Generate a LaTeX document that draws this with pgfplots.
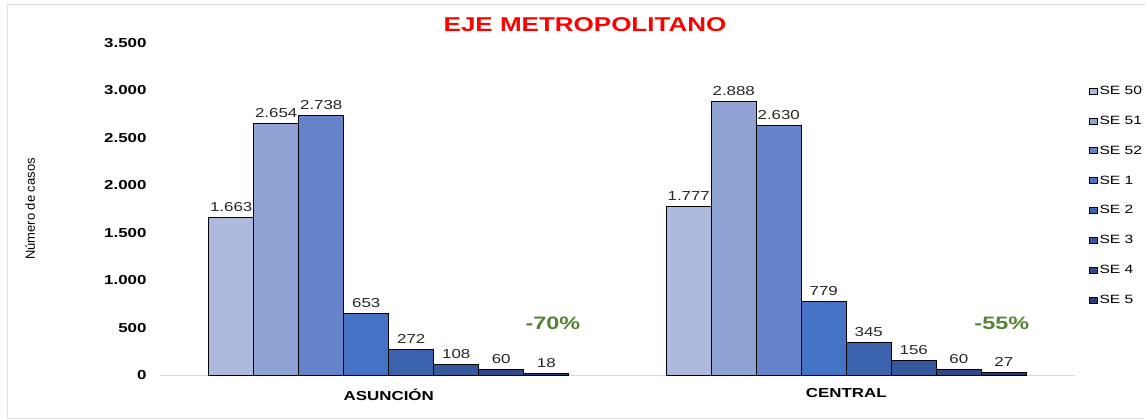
\documentclass[border=0pt]{standalone}
\usepackage{fontspec}
\setmainfont{Liberation Sans}[FakeStretch=1.3]
\newfontfamily\plainfont{Liberation Sans}
\usepackage{pgfplots}
\usepackage{pgfplotstable}
\pgfplotsset{compat=1.18}

\definecolor{c50}{HTML}{AEB9DE}
\definecolor{c51}{HTML}{8FA3D5}
\definecolor{c52}{HTML}{6483C9}
\definecolor{c1}{HTML}{4472C4}
\definecolor{c2}{HTML}{3C64AE}
\definecolor{c3}{HTML}{35579B}
\definecolor{c4}{HTML}{2E4A86}
\definecolor{c5}{HTML}{273F72}
\definecolor{pctgreen}{HTML}{548235}
\definecolor{titlered}{HTML}{FF0000}

% one row per region: 0 = Asuncion, 1 = Central
\pgfplotstableread{
reg se50 se51 se52 se1 se2 se3 se4 se5
0   1663 2654 2738 653 272 108 60  18
1   1777 2888 2630 779 345 156 60  27
}\casos

\pgfplotsset{
  legimg/.style={legend image code/.code={
    \draw[##1, line width=0.6pt] (0pt,-3pt) rectangle (8pt,3pt);}},
}

\begin{document}
\begin{tikzpicture}
\useasboundingbox (-160pt,-44pt) rectangle (985pt,375pt);
\draw[gray!25, line width=0.8pt] (-153pt,-43pt) rectangle (986pt,371pt);
\begin{axis}[
  at={(0pt,0pt)}, anchor=south west,
  scale only axis,
  width=915pt, height=332pt,
  ybar=0pt, bar width=45pt,
  xmin=-0.5, xmax=1.5,
  ymin=0, ymax=3500,
  enlargelimits=false,
  xtick={0,1},
  xticklabels={ASUNCIÓN, CENTRAL},
  ytick={0,500,...,3500},
  axis x line*=bottom, axis y line*=left,
  x axis line style={draw=gray!30, line width=0.8pt, -},
  y axis line style={draw=none},
  tick style={draw=none},
  /pgf/number format/.cd, 1000 sep={.}, assume math mode=true,
  /pgfplots/.cd,
  yticklabel style={font=\bfseries\fontsize{13}{13}\selectfont, xshift=-10pt},
  xticklabel style={font=\bfseries\fontsize{13}{13}\selectfont, yshift=-6pt},
  nodes near coords,
  nodes near coords style={font=\fontsize{13}{13}\selectfont, text=black!85, yshift=2pt},
  every axis plot/.append style={draw=black, line width=0.8pt},
  legend style={at={(1.015,0.877)}, anchor=north west, draw=none, fill=none,
    font=\fontsize{12}{12}\selectfont, row sep=16pt, inner sep=0pt,
    /tikz/every even column/.style={column sep=2pt}},
  legend cell align=left,
  clip=false,
]
\addplot[fill=c50, legimg] table[x=reg, y=se50] {\casos};
\addplot[fill=c51, legimg] table[x=reg, y=se51] {\casos};
\addplot[fill=c52, legimg] table[x=reg, y=se52] {\casos};
\addplot[fill=c1, legimg] table[x=reg, y=se1] {\casos};
\addplot[fill=c2, legimg] table[x=reg, y=se2] {\casos};
\addplot[fill=c3, legimg] table[x=reg, y=se3] {\casos};
\addplot[fill=c4, legimg] table[x=reg, y=se4] {\casos};
\addplot[fill=c5, legimg] table[x=reg, y=se5] {\casos};
\legend{SE 50, SE 51, SE 52, SE 1, SE 2, SE 3, SE 4, SE 5}

\node[font=\bfseries\fontsize{18}{18}\selectfont, text=pctgreen] at (axis cs:0.359,548) {-70\%};
\node[font=\bfseries\fontsize{18}{18}\selectfont, text=pctgreen] at (axis cs:1.340,548) {-55\%};
\node[font=\bfseries\fontsize{20}{20}\selectfont, text=titlered] at (rel axis cs:0.4645,1.054) {EJE METROPOLITANO};
\node[font=\plainfont\fontsize{13}{13}\selectfont, rotate=90] at (rel axis cs:-0.142,0.5) {Número de casos};
\end{axis}
\end{tikzpicture}
\end{document}
